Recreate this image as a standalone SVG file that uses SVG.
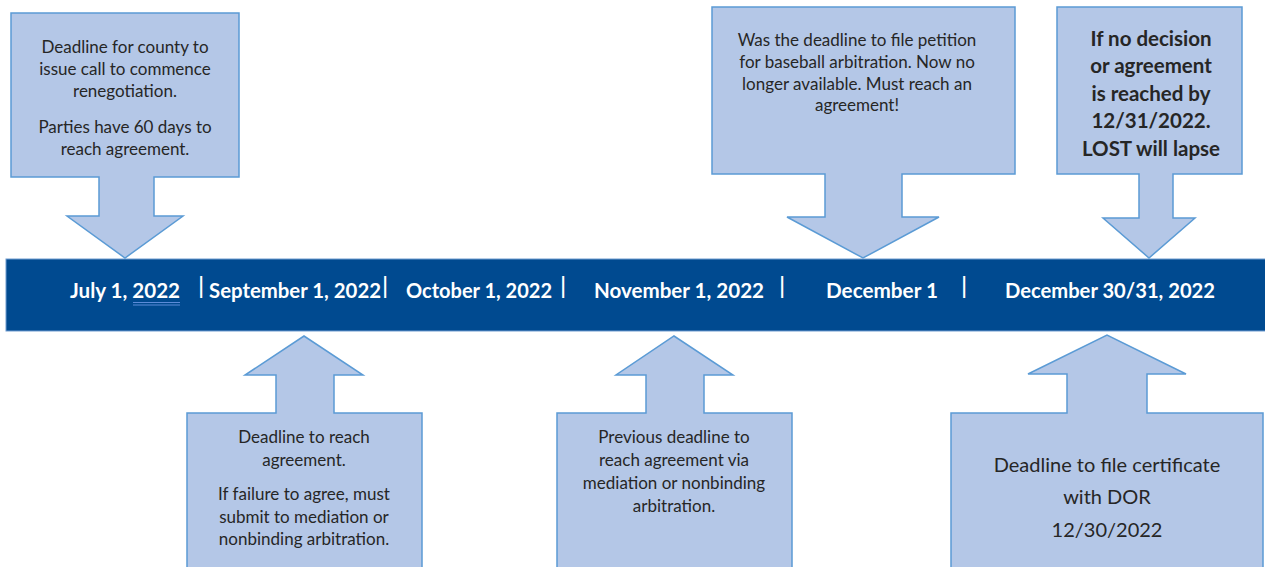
<svg xmlns="http://www.w3.org/2000/svg" width="1265" height="567" viewBox="0 0 1265 567">
<style>
.co{fill:#B4C7E7;stroke:#5B9BD5;stroke-width:1.5;stroke-linejoin:miter}
.t{font-family:Lato,"Open Sans","Liberation Sans",sans-serif;fill:#262626;text-anchor:middle}
.s{font-size:17px}
.b{font-weight:bold}
.d{font-family:Lato,"Open Sans","Liberation Sans",sans-serif;font-weight:bold;font-size:20px;fill:#FFFFFF}
.sep{font-family:"Liberation Sans",Arial,sans-serif;font-size:24px;fill:#FFFFFF;text-anchor:middle}
</style>
<rect width="1265" height="567" fill="#FFFFFF"/>
<g id="timeline-bar">
<rect x="6" y="259" width="1262" height="72" fill="#004A90" stroke="#6F9BD0" stroke-width="1"/>
</g>
<g id="callout-jul1">
<path class="co" d="M11,13 H239 V177 H154 V216 H183 L125,258 L67,216 H99 V177 H11 Z"/>
<text class="t s" x="125" y="53">Deadline for county to</text>
<text class="t s" x="125" y="75">issue call to commence</text>
<text class="t s" x="125" y="97">renegotiation.</text>
<text class="t s" x="125" y="133">Parties have 60 days to</text>
<text class="t s" x="125" y="155">reach agreement.</text>
</g>
<g id="callout-dec1">
<path class="co" d="M712,7 H1015 V174 H902 V217 H939 L863,258 L787,217 H825 V174 H712 Z"/>
<text class="t s" x="857" y="46">Was the deadline to file petition</text>
<text class="t s" x="857" y="68">for baseball arbitration. Now no</text>
<text class="t s" x="857" y="90">longer available. Must reach an</text>
<text class="t s" x="857" y="111">agreement!</text>
</g>
<g id="callout-dec31">
<path class="co" d="M1057,7 H1242 V174 H1173 V218 H1195 L1149,258 L1103,218 H1139 V174 H1057 Z"/>
<text class="t b" font-size="20.5" x="1151" y="46">If no decision</text>
<text class="t b" font-size="20.5" x="1151" y="73">or agreement</text>
<text class="t b" font-size="20.5" x="1151" y="101">is reached by</text>
<text class="t b" font-size="20.5" x="1151" y="128">12/31/2022.</text>
<text class="t b" font-size="20.5" x="1151" y="156">LOST will lapse</text>
</g>
<g id="callout-sep1">
<path class="co" d="M187,413 H276 V375 H245 L304,336 L363,375 H334 V413 H422 V580 H187 Z"/>
<text class="t s" x="304" y="443">Deadline to reach</text>
<text class="t s" x="304" y="466">agreement.</text>
<text class="t s" x="304" y="500">If failure to agree, must</text>
<text class="t s" x="304" y="523">submit to mediation or</text>
<text class="t s" x="304" y="545">nonbinding arbitration.</text>
</g>
<g id="callout-nov1">
<path class="co" d="M557,413 H646 V375 H616 L674,336 L733,375 H704 V413 H792 V580 H557 Z"/>
<text class="t s" x="674" y="443">Previous deadline to</text>
<text class="t s" x="674" y="466">reach agreement via</text>
<text class="t s" x="674" y="489">mediation or nonbinding</text>
<text class="t s" x="674" y="512">arbitration.</text>
</g>
<g id="callout-dec30">
<path class="co" d="M951,413 H1067 V374 H1028 L1107,335 L1186,374 H1147 V413 H1263 V580 H951 Z"/>
<text class="t" font-size="20" x="1107" y="472">Deadline to file certificate</text>
<text class="t" font-size="20" x="1107" y="504">with DOR</text>
<text class="t" font-size="20" x="1107" y="537">12/30/2022</text>
</g>
<g id="dates">
<text class="d" x="70" y="298" textLength="110" lengthAdjust="spacingAndGlyphs">July 1, 2022</text>
<line x1="133" y1="302.5" x2="180" y2="302.5" stroke="#5B8BD8" stroke-width="1"/>
<line x1="133" y1="305" x2="180" y2="305" stroke="#5B8BD8" stroke-width="1"/>
<text class="sep" x="201" y="293">|</text>
<text class="d" x="209" y="298" textLength="172" lengthAdjust="spacingAndGlyphs">September 1, 2022</text>
<text class="sep" x="385" y="293">|</text>
<text class="d" x="406" y="298" textLength="146" lengthAdjust="spacingAndGlyphs">October 1, 2022</text>
<text class="sep" x="563" y="293">|</text>
<text class="d" x="594" y="298" textLength="170" lengthAdjust="spacingAndGlyphs">November 1, 2022</text>
<text class="sep" x="782" y="293">|</text>
<text class="d" x="826" y="298" textLength="112" lengthAdjust="spacingAndGlyphs">December 1</text>
<text class="sep" x="964" y="293">|</text>
<text class="d" x="1005" y="298" textLength="210" lengthAdjust="spacingAndGlyphs">December 30/31, 2022</text>
</g>
</svg>
